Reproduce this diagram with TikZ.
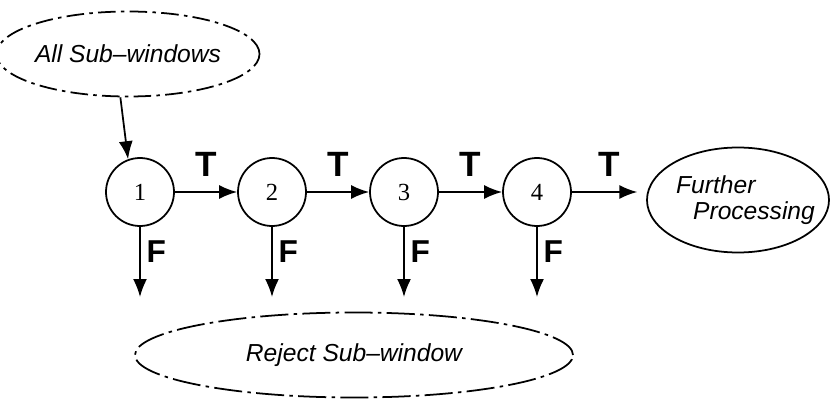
\documentclass[tikz,border=0pt]{standalone}
\usepackage{fontspec}
\setmainfont{Liberation Serif}
\setsansfont{Liberation Sans}
\usepackage{tikz}
\usetikzlibrary{shapes.geometric, arrows.meta, positioning}
\tikzstyle{arrow} = [line width=1pt,-{Latex[length=3.6mm,width=2.8mm]}]
\tikzstyle{stage} = [circle, draw, line width=1pt, minimum size=1.36cm, inner sep=0pt, font=\fontsize{14}{16}\selectfont]
\tikzstyle{cloud} = [ellipse, draw, line width=1pt, inner sep=0pt, font=\sffamily\itshape\fontsize{14}{14.5}\selectfont]
\tikzstyle{tlabel} = [font=\sffamily\bfseries\fontsize{20}{22}\selectfont]
\tikzstyle{flabel} = [font=\sffamily\bfseries\fontsize{18}{20}\selectfont]

\begin{document}
\begin{tikzpicture}
\useasboundingbox (0,0) rectangle (16.6,8.02);

% Input and output ellipses
\node [cloud, dash pattern=on 10pt off 3pt on 2pt off 3pt, minimum width=4.66cm, minimum height=1.7cm] (allsub) at (2.56,6.94) {All Sub--windows};
\node [cloud, align=left, inner xsep=-0.25cm, minimum width=3.6cm, minimum height=2.1cm] (further) at (14.76,4.02) {\hspace*{0.3cm}Further\\\hspace*{0.64cm}Processing};
\node [cloud, dash pattern=on 16pt off 3pt on 2pt off 3pt, minimum width=8.76cm, minimum height=1.7cm] (reject) at (7.08,0.92) {Reject Sub--window};

% Stages of the cascade
\node [stage] (stage1) at (2.8,4.18) {1};
\node [stage] (stage2) at (5.44,4.18) {2};
\node [stage] (stage3) at (8.08,4.18) {3};
\node [stage] (stage4) at (10.74,4.18) {4};

% Ends of the false branches
\coordinate (fend1) at (2.8,2.08);
\coordinate (fend2) at (5.44,2.08);
\coordinate (fend3) at (8.08,2.08);
\coordinate (fend4) at (10.74,2.08);

% Input arrow
\draw [arrow] (allsub.-100) -- (stage1.110);

% True branches
\draw [arrow] (stage1) -- node [tlabel, midway, above=0.17cm] (t1) {T} (stage2);
\draw [arrow] (stage2) -- node [tlabel, midway, above=0.17cm] (t2) {T} (stage3);
\draw [arrow] (stage3) -- node [tlabel, midway, above=0.17cm] (t3) {T} (stage4);
\draw [arrow, shorten >=5pt] (stage4.east) -- node [tlabel, midway, above=0.17cm] (t4) {T} (stage4.east -| further.west);

% False branches
\draw [arrow] (stage1) -- node [flabel, right, pos=0.35] (f1) {F} (fend1);
\draw [arrow] (stage2) -- node [flabel, right, pos=0.35] (f2) {F} (fend2);
\draw [arrow] (stage3) -- node [flabel, right, pos=0.35] (f3) {F} (fend3);
\draw [arrow] (stage4) -- node [flabel, right, pos=0.35] (f4) {F} (fend4);

\end{tikzpicture}
\end{document}
